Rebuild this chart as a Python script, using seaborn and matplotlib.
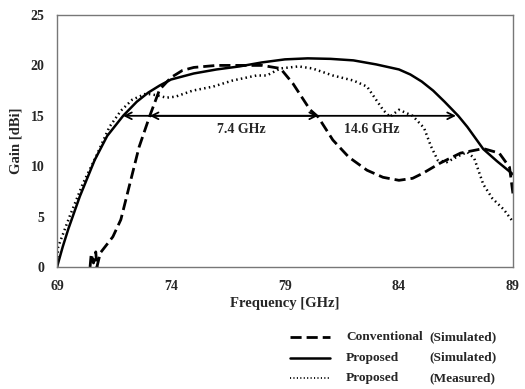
import pandas as pd
import matplotlib.pyplot as plt
from matplotlib.lines import Line2D
import seaborn as sns

# === DATOS ===
freq_conv = [70.45, 70.5, 70.6, 70.7, 70.75, 70.9, 71.45, 71.8, 72.2, 72.6, 73.07, 73.5,
             74.0, 74.5, 75, 76, 77, 78, 78.8, 79.35, 80.1, 80.45, 81.1, 81.8, 82.6,
             83.3, 84.0, 84.6, 85.05, 85.8, 86.7, 87.7, 88.4, 88.85, 89]
gain_conv = [0, 1.3, 0.4, 1.5, 0, 1.4, 3.0, 4.7, 8.3, 11.9, 15.0, 17.6,
             18.8, 19.5, 19.8, 20.0, 20.0, 20.0, 19.7, 18.2, 15.6, 14.9, 12.6, 10.9, 9.6,
             8.9, 8.6, 8.8, 9.3, 10.3, 11.3, 11.75, 11.3, 9.9, 7.3]

freq_prop = [69, 69.25, 69.5, 70, 70.65, 71.2, 71.9, 72.5, 73, 73.5, 74, 75, 76, 77, 78, 79, 80,
             81, 82, 83, 84, 84.5, 85, 85.5, 86, 86.6, 87, 87.7, 88.3, 89]
gain_prop = [0, 2.0, 3.8, 7.0, 10.6, 13.0, 15.0, 16.4, 17.3, 18.0, 18.6, 19.2, 19.6, 19.9, 20.3,
             20.6, 20.7, 20.65, 20.5, 20.1, 19.6, 19.1, 18.4, 17.5, 16.4, 15.0, 13.9, 11.7, 10.5, 9.2]

freq_meas = [69, 69.05, 69.55, 70.14, 70.7, 71.3, 71.8, 72.3, 72.9, 73.35, 73.8, 74.2, 74.95,
             75.85, 76.7, 77.75, 78.2, 78.8, 79.6, 80.2, 81.1, 82.0, 82.6, 83.3, 83.6, 84.0,
             84.6, 85.1, 85.4, 85.7, 86.1, 86.6, 87.0, 87.3, 87.7, 88.1, 88.6, 89]
gain_meas = [0, 2.0, 5.0, 8.3, 10.9, 13.9, 15.5, 16.6, 17.2, 17.05, 16.8, 16.9, 17.5,
             17.9, 18.5, 19.0, 19.0, 19.7, 19.9, 19.7, 19.0, 18.5, 17.9, 15.6, 14.9, 15.6,
             15.0, 13.8, 12.0, 10.6, 10.4, 11.0, 11.4, 10.8, 8.2, 6.8, 5.7, 4.5]

# anchos de banda de 15 dBi
bw_conv = (73.07, 80.45)
bw_prop = (71.9, 86.5)
bw_labels = ["7.4 GHz", "14.6 GHz"]

x_ticks = [69, 74, 79, 84, 89]
y_ticks = [0, 5, 10, 15, 20, 25]

df_conv = pd.DataFrame({"Frequency": freq_conv, "Gain": gain_conv})
df_prop = pd.DataFrame({"Frequency": freq_prop, "Gain": gain_prop})
df_meas = pd.DataFrame({"Frequency": freq_meas, "Gain": gain_meas})

# === ESTILO ===
sns.set_theme(style="white")
plt.rcParams["font.family"] = ["Liberation Serif", "DejaVu Serif"]
plt.rcParams["font.weight"] = "bold"

fig = plt.figure(figsize=(5.25, 3.89), dpi=100)
ax = fig.add_axes([0.1086, 0.3136, 0.8684, 0.6478])

dash = (0, (4.0, 1.8))
dot = (0, (0.6, 1.3))
sns.lineplot(data=df_conv, x="Frequency", y="Gain", ax=ax, color="black",
             linewidth=2.0, linestyle=dash, sort=False)
sns.lineplot(data=df_prop, x="Frequency", y="Gain", ax=ax, color="black",
             linewidth=1.8, sort=False)
sns.lineplot(data=df_meas, x="Frequency", y="Gain", ax=ax, color="black",
             linewidth=1.8, linestyle=dot, sort=False)

# flechas de ancho de banda
for lo, hi in [bw_prop, bw_conv]:
    ax.annotate("", xy=(lo, 15), xytext=(hi, 15),
                arrowprops=dict(arrowstyle="<->", color="black", lw=1.3,
                                shrinkA=0, shrinkB=0, mutation_scale=12))
ax.text(77.1, 13.6, bw_labels[0], ha="center", va="center", fontsize=10, fontweight="bold")
ax.text(82.8, 13.6, bw_labels[1], ha="center", va="center", fontsize=10, fontweight="bold")

ax.set_xlim(69, 89)
ax.set_ylim(0, 25)
ax.set_xticks(x_ticks)
ax.set_yticks(y_ticks)
ax.tick_params(direction="in", length=3, color="#777777", labelsize=10, pad=9)
for lab in ax.get_xticklabels() + ax.get_yticklabels():
    lab.set_fontweight("bold")
for sp in ax.spines.values():
    sp.set_color("#777777")
    sp.set_linewidth(1.0)

ax.set_xlabel("Frequency [GHz]", fontsize=10.5, fontweight="bold", labelpad=3)
ax.set_ylabel("Gain [dBi]", fontsize=10.5, fontweight="bold", labelpad=6)

# === LEYENDA MANUAL ===
rows = [("Conventional", "(Simulated)", dash, 2.0),
        ("Proposed", "(Simulated)", "-", 1.8),
        ("Proposed", "(Measured)", dot, 1.3)]
y0 = 1 - 337 / 389
dy = 20.7 / 389
for i, (name, kind, ls, lw) in enumerate(rows):
    yy = y0 - i * dy
    fig.add_artist(Line2D([290 / 525, 330 / 525], [yy, yy], color="black",
                          linestyle=ls, linewidth=lw))
    fig.text(346 / 525, yy, name, ha="left", va="center", fontsize=9.6, fontweight="bold")
    fig.text(429 / 525, yy, kind, ha="left", va="center", fontsize=9.6, fontweight="bold")

fig.savefig("out.png", dpi=100)
